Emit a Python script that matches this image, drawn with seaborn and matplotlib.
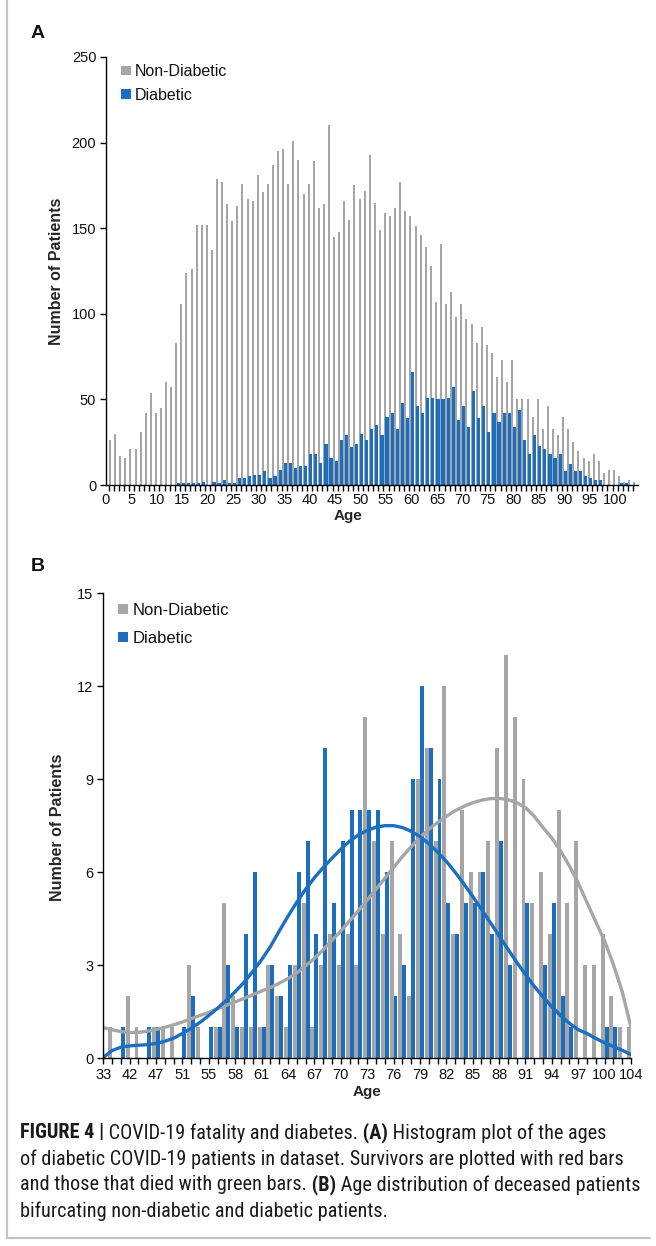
import numpy as np
import pandas as pd
import matplotlib
matplotlib.use("Agg")
import matplotlib.pyplot as plt
import seaborn as sns
from matplotlib.lines import Line2D
from matplotlib.patches import Patch
from matplotlib import font_manager
from matplotlib.font_manager import FontProperties

W, H, DPI = 656, 1246, 100

# ---------------- Panel A data ----------------
ages_a = list(range(1, 105))
non_diabetic_a = [26, 30, 17, 16, 21, 21, 31, 42, 54, 42,
                  45, 60, 57, 83, 106, 124, 126, 152, 152, 152,
                  137, 179, 177, 164, 154, 163, 176, 167, 166, 181,
                  171, 176, 187, 195, 196, 176, 201, 190, 170, 176,
                  189, 162, 164, 210, 145, 148, 166, 155, 175, 167,
                  172, 193, 165, 149, 159, 157, 162, 177, 160, 157,
                  151, 146, 139, 128, 107, 141, 106, 113, 98, 106,
                  97, 94, 83, 92, 82, 77, 63, 73, 60, 73,
                  50, 50, 50, 40, 50, 33, 46, 33, 29, 40,
                  33, 25, 20, 16, 14, 18, 14, 7, 9, 9,
                  5, 2, 3, 2]
diabetic_a = [0, 0, 0, 0, 0, 0, 0, 0, 0, 0,
              0, 0, 0, 1, 1, 1, 1, 1, 2, 0,
              2, 1, 3, 1, 1, 4, 4, 5, 6, 6,
              8, 4, 5, 9, 13, 13, 10, 11, 11, 18,
              18, 13, 24, 16, 14, 26, 29, 22, 24, 30,
              26, 33, 35, 29, 40, 42, 33, 48, 39, 66,
              46, 42, 51, 51, 50, 50, 51, 57, 38, 46,
              34, 55, 39, 46, 31, 42, 37, 42, 42, 34,
              44, 26, 18, 29, 23, 21, 18, 16, 18, 8,
              12, 8, 8, 5, 4, 3, 3, 0, 0, 0,
              1, 1, 0, 0]
xticks_a = list(range(0, 101, 5))
yticks_a = [0, 50, 100, 150, 200, 250]

# ---------------- Panel B data ----------------
ages_b = [33, 37, 40, 42, 44, 46, 47, 48, 50, 51, 52, 53] + list(range(55, 101)) + [101, 102, 104]
non_diabetic_b = [1, 1, 0, 2, 1, 0, 1, 1, 1, 0,
                  3, 1, 0, 1, 5, 2, 1, 1, 1, 3,
                  2, 1, 3, 5, 1, 3, 4, 3, 4, 3,
                  11, 7, 4, 7, 4, 2, 9, 10, 7, 12,
                  4, 8, 6, 6, 7, 10, 13, 11, 9, 5,
                  6, 4, 8, 5, 7, 3, 3, 4, 2, 1,
                  1]
diabetic_b = [0, 0, 1, 0, 0, 1, 1, 0, 0, 1,
              2, 0, 1, 1, 3, 1, 4, 6, 1, 3,
              2, 3, 6, 7, 4, 10, 5, 7, 8, 8,
              8, 8, 6, 2, 3, 9, 12, 10, 9, 5,
              4, 5, 5, 6, 4, 7, 3, 0, 5, 0,
              3, 5, 2, 1, 0, 0, 0, 1, 1, 0,
              0]
yticks_b = [0, 3, 6, 9, 12, 15]
# trend lines (value at each category position)
trend_non_b = [0.99, 0.92, 0.86, 0.83, 0.84, 0.87, 0.93, 1.00, 1.08, 1.17,
               1.28, 1.38, 1.48, 1.60, 1.71, 1.82, 1.93, 2.05, 2.17, 2.28,
               2.42, 2.57, 2.75, 2.98, 3.22, 3.50, 3.80, 4.10, 4.43, 4.76,
               5.10, 5.45, 5.80, 6.15, 6.50, 6.82, 7.12, 7.38, 7.60, 7.80,
               7.98, 8.12, 8.24, 8.32, 8.37, 8.38, 8.34, 8.24, 8.08, 7.80,
               7.44, 7.10, 6.68, 6.20, 5.65, 5.02, 4.40, 3.78, 3.02, 2.15,
               1.00]
trend_dia_b = [0.03, 0.25, 0.36, 0.40, 0.42, 0.44, 0.48, 0.55, 0.65, 0.80,
               0.97, 1.16, 1.38, 1.62, 1.87, 2.15, 2.45, 2.80, 3.18, 3.60,
               4.10, 4.58, 5.03, 5.45, 5.82, 6.15, 6.45, 6.74, 7.00, 7.20,
               7.35, 7.45, 7.50, 7.50, 7.44, 7.32, 7.15, 6.92, 6.65, 6.35,
               6.00, 5.62, 5.22, 4.80, 4.38, 3.95, 3.52, 3.10, 2.70, 2.32,
               1.98, 1.66, 1.38, 1.13, 0.92, 0.80, 0.64, 0.50, 0.38, 0.26,
               0.12]

series_names = ["Non-Diabetic", "Diabetic"]
GRAY = "#A6A6A6"
BLUE = "#1C6FBE"

sns.set_theme(style="ticks")
plt.rcParams["font.family"] = ["Liberation Sans", "DejaVu Sans"]
plt.rcParams["text.color"] = "#111111"

fig = plt.figure(figsize=(W / DPI, H / DPI), dpi=DPI)


def px_axes(l, t, r, b):
    return fig.add_axes([l / W, 1 - b / H, (r - l) / W, (b - t) / H])


axA = px_axes(106, 57, 638, 485)
axB = px_axes(103.3, 593, 631, 1058.3)

# ---------------- Panel A ----------------
dfA = pd.DataFrame({
    "age": ages_a + ages_a,
    "n": non_diabetic_a + diabetic_a,
    "group": [series_names[0]] * len(ages_a) + [series_names[1]] * len(ages_a),
})
sns.barplot(data=dfA, x="age", y="n", hue="group", hue_order=series_names,
            native_scale=True, dodge=True, width=0.8, palette=[GRAY, BLUE],
            saturation=1, errorbar=None, legend=False, linewidth=0, ax=axA)
# diabetic bars are drawn a little wider in the original
for bar in axA.containers[1]:
    c = bar.get_x() + bar.get_width() / 2
    bar.set_width(0.62)
    bar.set_x(c - 0.31)

axA.set_xlim(0, 104.5)
axA.set_ylim(0, 250)
axA.set_yticks(yticks_a)
axA.set_xticks(xticks_a)
axA.set_xticklabels([str(v) for v in xticks_a])
axA.set_xticks(np.arange(0.5, 104.5, 1.0), minor=True)

# ---------------- Panel B ----------------
pos_b = list(range(len(ages_b)))
dfB = pd.DataFrame({
    "pos": pos_b + pos_b,
    "n": non_diabetic_b + diabetic_b,
    "group": [series_names[0]] * len(pos_b) + [series_names[1]] * len(pos_b),
})
sns.barplot(data=dfB, x="pos", y="n", hue="group", hue_order=series_names,
            native_scale=True, dodge=True, width=0.9, palette=[GRAY, BLUE],
            saturation=1, errorbar=None, legend=False, linewidth=0, ax=axB)
sns.lineplot(x=pos_b, y=trend_non_b, color=GRAY, linewidth=2.4, estimator=None,
             sort=False, ax=axB)
sns.lineplot(x=pos_b, y=trend_dia_b, color=BLUE, linewidth=2.4, estimator=None,
             sort=False, ax=axB)
axB.set_xlim(0, len(ages_b) - 1)
axB.set_ylim(0, 15)
axB.set_yticks(yticks_b)
axB.set_xticks(pos_b[::3])
axB.set_xticklabels([str(a) for a in ages_b[::3]])
axB.set_xticks(pos_b, minor=True)

# ---------------- common styling ----------------
for ax in (axA, axB):
    sns.despine(ax=ax)
    for s in ("left", "bottom"):
        ax.spines[s].set_color("black")
        ax.spines[s].set_linewidth(1.0)
    ax.tick_params(axis="y", direction="out", length=4, width=1, color="black",
                   labelsize=10.5, labelcolor="#111111", pad=3)
    ax.tick_params(axis="x", which="minor", direction="out", length=4, width=1,
                   color="black")
    ax.tick_params(axis="x", which="major", direction="out", length=0,
                   labelsize=10.5, labelcolor="#111111", pad=6)
    ax.grid(False)
    ax.set_facecolor("none")

axB.tick_params(axis="x", which="major", length=4, width=1, color="black", pad=3)

axA.set_ylabel("Number of Patients", fontsize=11.5, fontweight="bold")
axA.yaxis.set_label_coords((64 - 106) / 532, 0.5)
axA.set_xlabel("Age", fontsize=11, fontweight="bold")
axA.xaxis.set_label_coords((348 - 106) / 532, (485 - 509) / 428)

axB.set_ylabel("Number of Patients", fontsize=11.5, fontweight="bold")
axB.yaxis.set_label_coords((65 - 103.3) / 527.7, 0.497)
axB.set_xlabel("Age", fontsize=11, fontweight="bold")
axB.xaxis.set_label_coords(0.5, (1058.3 - 1085) / 465.3)

handles = [Patch(facecolor=GRAY, edgecolor="none"), Patch(facecolor=BLUE, edgecolor="none")]
axA.legend(handles, series_names, loc="upper left",
           bbox_to_anchor=((121 - 106) / 532, (485 - 64) / 428),
           frameon=False, fontsize=11.5, handlelength=0.6, handleheight=0.55,
           handletextpad=0.25, labelspacing=0.56, borderpad=0, borderaxespad=0)
axB.legend(handles, series_names, loc="upper left",
           bbox_to_anchor=((118 - 103.3) / 527.7, (1058.3 - 603) / 465.3),
           frameon=False, fontsize=12, handlelength=0.6, handleheight=0.55,
           handletextpad=0.25, labelspacing=0.79, borderpad=0, borderaxespad=0)

# panel letters
fig.text(31 / W, 1 - 33 / H, "A", fontsize=14, fontweight="bold", ha="left", va="center")
fig.text(31 / W, 1 - 566 / H, "B", fontsize=14, fontweight="bold", ha="left", va="center")

# frame lines
fig.add_artist(Line2D([7 / W, 7 / W], [1.0, 1 - 1238 / H], color="#C4C4C4", lw=1.6,
                      transform=fig.transFigure))
fig.add_artist(Line2D([7 / W, 650 / W], [1 - 1238 / H, 1 - 1238 / H], color="#C4C4C4",
                      lw=1.6, transform=fig.transFigure))

# ---------------- caption ----------------
# look for a condensed sans face; fall back to Liberation Sans
def pick_caption_fonts():
    ttf = font_manager.fontManager.ttflist
    prefs = ["Liberation Sans Narrow", "Roboto Condensed", "Open Sans Condensed",
             "Noto Sans Condensed", "DejaVu Sans Condensed", "Arial Narrow"]
    def is_bold(f):
        w = f.weight
        try:
            return int(w) >= 600
        except (TypeError, ValueError):
            return str(w).lower() in ("bold", "semibold", "demibold", "heavy", "extra bold")
    def is_cond(f):
        return str(f.stretch).lower() in ("condensed", "semi-condensed", "extra-condensed") \
            or "Narrow" in f.name or "Condensed" in f.name
    for p in prefs:
        fam = [f for f in ttf if f.name == p and f.style == "normal"]
        if fam:
            reg = [f for f in fam if not is_bold(f)]
            bld = [f for f in fam if is_bold(f)]
            if reg:
                return reg[0].fname, (bld[0].fname if bld else reg[0].fname)
    for base in ["DejaVu Sans", "Noto Sans", "Open Sans", "Roboto"]:
        fam = [f for f in ttf if f.name == base and f.style == "normal" and is_cond(f)]
        if fam:
            reg = [f for f in fam if not is_bold(f)]
            bld = [f for f in fam if is_bold(f)]
            if reg:
                return reg[0].fname, (bld[0].fname if bld else reg[0].fname)
    return None, None

reg_path, bold_path = pick_caption_fonts()


def cap_props(bold, size):
    if reg_path is None:
        return FontProperties(family=["Liberation Sans", "DejaVu Sans"],
                              weight="bold" if bold else "normal", size=size)
    return FontProperties(fname=bold_path if bold else reg_path, size=size)


caption_lines = [
    [("FIGURE 4 |", True), (" COVID-19 fatality and diabetes.", False), (" (A)", True),
     (" Histogram plot of the ages", False)],
    [("of diabetic COVID-19 patients in dataset. Survivors are plotted with red bars", False)],
    [("and those that died with green bars.", False), (" (B)", True),
     (" Age distribution of deceased patients", False)],
    [("bifurcating non-diabetic and diabetic patients.", False)],
]
line_y = [1133, 1159, 1185, 1211]

renderer = fig.canvas.get_renderer()


def line_width(runs, size):
    total = 0.0
    for txt, bold in runs:
        t = fig.text(0, 0, txt, fontproperties=cap_props(bold, size))
        total += t.get_window_extent(renderer).width
        t.remove()
    return total


widest = max(line_width(r, 13) for r in caption_lines)
cap_size = 13 * 616 / widest

for runs, yc in zip(caption_lines, line_y):
    x = 20.0
    for txt, bold in runs:
        t = fig.text(x / W, 1 - yc / H, txt, fontproperties=cap_props(bold, cap_size),
                     ha="left", va="center", color="#1a1a1a")
        x += t.get_window_extent(renderer).width

fig.savefig("out.png", dpi=DPI)
